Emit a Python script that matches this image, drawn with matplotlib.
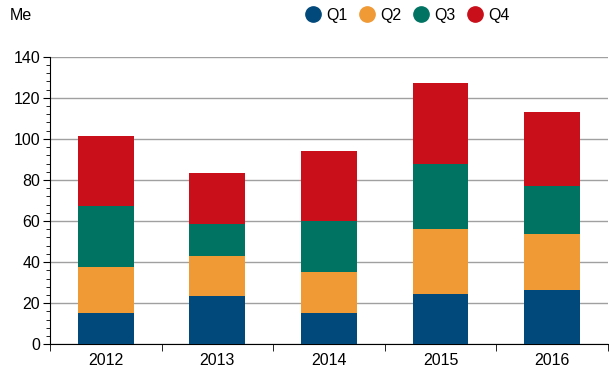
import matplotlib.pyplot as plt
from matplotlib.lines import Line2D
from matplotlib.ticker import MultipleLocator
import numpy as np

plt.rcParams['font.family'] = ['Liberation Sans', 'DejaVu Sans']

years = ['2012', '2013', '2014', '2015', '2016']
q1 = [15.1, 23.5, 15.2, 24.5, 26.4]
q2 = [22.5, 19.5, 20.0, 31.6, 27.3]
q3 = [29.7, 15.6, 24.7, 31.7, 23.4]
q4 = [34.1, 24.8, 34.2, 39.5, 35.9]
series = ['Q1', 'Q2', 'Q3', 'Q4']
colors = ['#00497a', '#f09a36', '#007363', '#c80f1a']

fig = plt.figure(figsize=(6.09, 3.76), dpi=100)
ax = fig.add_axes([0.0821, 0.0843, 0.916, 0.765])

x = np.arange(len(years))
bottom = np.zeros(len(years))
for vals, c in zip([q1, q2, q3, q4], colors):
    ax.bar(x, vals, width=0.5, bottom=bottom, color=c, zorder=3)
    bottom += np.array(vals)

ax.set_xlim(-0.5, len(years) - 0.5)
ax.set_ylim(0, 140)
ax.yaxis.set_major_locator(MultipleLocator(20))
ax.yaxis.set_minor_locator(MultipleLocator(4))
ax.grid(axis='y', color='#a0a0a0', linewidth=1, zorder=0)

ax.set_xticks(x)
ax.set_xticklabels(years)
ax.set_xticks(np.arange(len(years) + 1) - 0.5, minor=True)
ax.tick_params(axis='x', which='major', length=0, pad=6, labelsize=11.5)
ax.tick_params(axis='x', which='minor', length=5, direction='out', color='black')
ax.tick_params(axis='y', which='major', length=5, labelsize=11.5, pad=2)
ax.tick_params(axis='y', which='minor', length=3)

for s in ['top', 'right']:
    ax.spines[s].set_visible(False)
ax.spines['left'].set_color('black')
ax.spines['bottom'].set_color('black')

fig.text(0.016, 0.96, 'Me', fontsize=11.5, va='center', ha='left')

handles = [Line2D([], [], marker='o', linestyle='none', markersize=11,
                  markerfacecolor=c, markeredgecolor=c) for c in colors]
fig.legend(handles, series, ncol=4, loc='center right', bbox_to_anchor=(0.85, 0.96),
           frameon=False, fontsize=11.5, handletextpad=0.35, columnspacing=0.7,
           handlelength=1.0, borderpad=0)

fig.savefig('out.png', dpi=100)
